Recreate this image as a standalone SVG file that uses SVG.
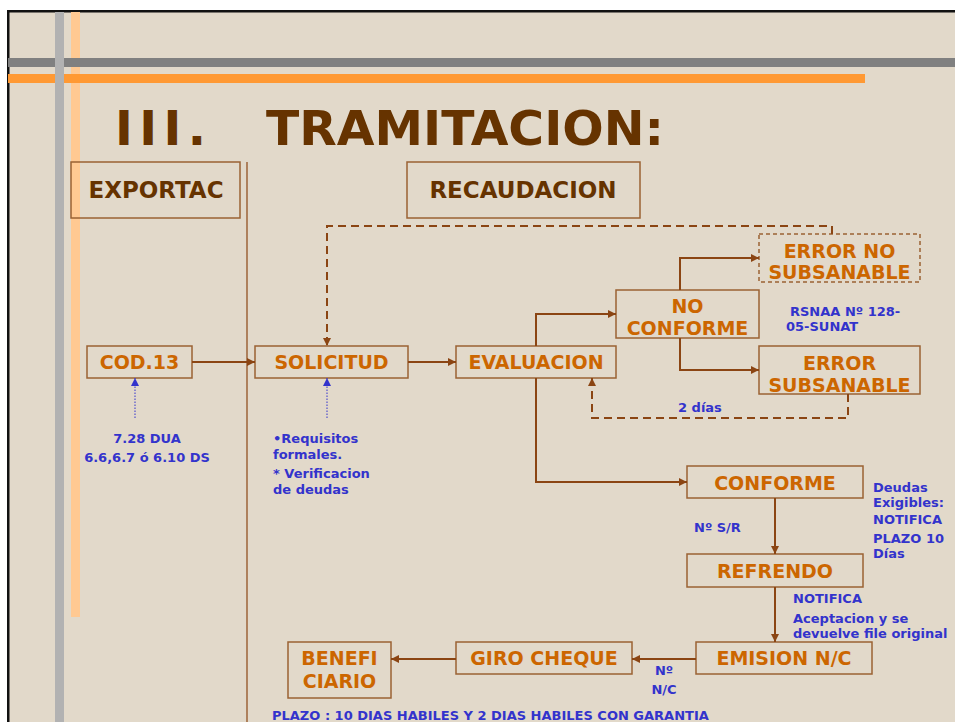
<svg xmlns="http://www.w3.org/2000/svg" width="955" height="722" viewBox="0 0 955 722">
<defs>
<marker id="ah" viewBox="0 0 10 10" refX="10" refY="5" markerWidth="9" markerHeight="8" markerUnits="userSpaceOnUse" orient="auto">
<path d="M0,0 L10,5 L0,10 z" fill="#8b4513"/>
</marker>
<marker id="ahb" viewBox="0 0 10 10" refX="10" refY="5" markerWidth="9" markerHeight="8" markerUnits="userSpaceOnUse" orient="auto">
<path d="M0,0 L10,5 L0,10 z" fill="#3333cc"/>
</marker>
<style>
.box{fill:none;stroke:#9a6233;stroke-width:1.5}
.lbl{font-family:"DejaVu Sans",Verdana,sans-serif;font-weight:bold;font-size:19px;fill:#cc6600;text-anchor:middle}
.hdr{font-family:"DejaVu Sans",Verdana,sans-serif;font-weight:bold;font-size:23px;fill:#663300;text-anchor:middle}
.note{font-family:"DejaVu Sans",Verdana,sans-serif;font-weight:bold;font-size:13px;fill:#3333cc}
.con{fill:none;stroke:#8b4513;stroke-width:2}
.dash{fill:none;stroke:#8b4513;stroke-width:2;stroke-dasharray:8,5}
.dot{fill:none;stroke:#3333cc;stroke-width:1;stroke-dasharray:1.5,1.5}
</style>
</defs>
<rect x="0" y="0" width="955" height="722" fill="#ffffff"/>
<rect x="8" y="11" width="947" height="711" fill="#e2d9ca"/>
<rect x="7" y="10" width="948" height="2.5" fill="#111"/>
<rect x="7" y="10" width="2.5" height="712" fill="#111"/>
<!-- decorative bars -->
<rect x="71" y="12" width="9" height="605" fill="#ffc992"/>
<rect x="8" y="58" width="947" height="9" fill="#808080"/>
<rect x="8" y="74" width="857" height="9" fill="#ff9933"/>
<rect x="55" y="12" width="9" height="710" fill="#b2b2b2"/>
<!-- title -->
<text x="115" y="145" font-family="'DejaVu Sans',Verdana,sans-serif" font-weight="bold" font-size="48" fill="#663300" textLength="91" lengthAdjust="spacing">III.</text>
<text x="266" y="145" font-family="'DejaVu Sans',Verdana,sans-serif" font-weight="bold" font-size="48" fill="#663300" textLength="398" lengthAdjust="spacingAndGlyphs">TRAMITACION:</text>
<line x1="247" y1="162" x2="247" y2="722" stroke="#8b4513" stroke-width="1.2"/>
<g id="exportac"><rect class="box" x="71" y="162" width="169" height="56"/><text class="hdr" x="156" y="198">EXPORTAC</text></g>
<g id="recaudacion"><rect class="box" x="407" y="162" width="233" height="56"/><text class="hdr" x="523" y="198">RECAUDACION</text></g>
<g id="cod13"><rect class="box" x="87" y="346" width="105" height="32"/><text class="lbl" x="139.5" y="369">COD.13</text></g>
<g id="solicitud"><rect class="box" x="255" y="346" width="153" height="32"/><text class="lbl" x="331.5" y="369">SOLICITUD</text></g>
<g id="evaluacion"><rect class="box" x="456" y="346" width="160" height="32"/><text class="lbl" x="536" y="369">EVALUACION</text></g>
<g id="noconforme"><rect class="box" x="616" y="290" width="143" height="48"/><text class="lbl" x="687.5" y="313">NO</text><text class="lbl" x="687.5" y="335">CONFORME</text></g>
<g id="errorno"><rect class="box" x="759" y="234" width="161" height="48" style="stroke-dasharray:4,3"/><text class="lbl" x="839.5" y="258">ERROR NO</text><text class="lbl" x="839.5" y="279">SUBSANABLE</text></g>
<g id="errorsub"><rect class="box" x="759" y="346" width="161" height="48"/><text class="lbl" x="839.5" y="370">ERROR</text><text class="lbl" x="839.5" y="392">SUBSANABLE</text></g>
<g id="conforme"><rect class="box" x="687" y="466" width="176" height="32"/><text class="lbl" x="775" y="490">CONFORME</text></g>
<g id="refrendo"><rect class="box" x="687" y="554" width="176" height="33"/><text class="lbl" x="775" y="578">REFRENDO</text></g>
<g id="emision"><rect class="box" x="696" y="642" width="176" height="32"/><text class="lbl" x="784" y="665">EMISION N/C</text></g>
<g id="giro"><rect class="box" x="456" y="642" width="176" height="32"/><text class="lbl" x="544" y="665">GIRO CHEQUE</text></g>
<g id="beneficiario"><rect class="box" x="288" y="642" width="103" height="56"/><text class="lbl" x="339.5" y="665">BENEFI</text><text class="lbl" x="339.5" y="688">CIARIO</text></g>
<g id="connectors">
<line class="con" x1="192" y1="362" x2="255" y2="362" marker-end="url(#ah)"/>
<line class="con" x1="408" y1="362" x2="456" y2="362" marker-end="url(#ah)"/>
<polyline class="con" points="536,346 536,314 616,314" marker-end="url(#ah)"/>
<polyline class="con" points="680,290 680,258 759,258" marker-end="url(#ah)"/>
<polyline class="con" points="680,338 680,370 759,370" marker-end="url(#ah)"/>
<polyline class="dash" points="832,234 832,226 327,226 327,346" marker-end="url(#ah)"/>
<polyline class="dash" points="848,394 848,418 592,418 592,378" marker-end="url(#ah)"/>
<polyline class="con" points="536,378 536,482 687,482" marker-end="url(#ah)"/>
<line class="con" x1="775" y1="498" x2="775" y2="554" marker-end="url(#ah)"/>
<line class="con" x1="775" y1="587" x2="775" y2="642" marker-end="url(#ah)"/>
<line class="con" x1="696" y1="659" x2="632" y2="659" marker-end="url(#ah)"/>
<line class="con" x1="456" y1="659" x2="391" y2="659" marker-end="url(#ah)"/>
<line class="dot" x1="135" y1="418" x2="135" y2="378" marker-end="url(#ahb)"/>
<line class="dot" x1="327" y1="418" x2="327" y2="378" marker-end="url(#ahb)"/>
</g>
<g id="notes">
<text class="note" x="790" y="316">RSNAA Nº 128-</text>
<text class="note" x="786" y="331">05-SUNAT</text>
<text class="note" x="678" y="412">2 días</text>
<text class="note" x="147" y="443" text-anchor="middle">7.28 DUA</text>
<text class="note" x="147" y="462" text-anchor="middle">6.6,6.7 ó 6.10 DS</text>
<text class="note" x="273" y="443">•Requisitos</text>
<text class="note" x="273" y="459">formales.</text>
<text class="note" x="273" y="478">* Verificacion</text>
<text class="note" x="273" y="494">de deudas</text>
<text class="note" x="694" y="532">Nº S/R</text>
<text class="note" x="873" y="492">Deudas</text>
<text class="note" x="873" y="507">Exigibles:</text>
<text class="note" x="873" y="524">NOTIFICA</text>
<text class="note" x="873" y="543">PLAZO 10</text>
<text class="note" x="873" y="558">Días</text>
<text class="note" x="793" y="603">NOTIFICA</text>
<text class="note" x="793" y="623">Aceptacion y se</text>
<text class="note" x="793" y="638">devuelve file original</text>
<text class="note" x="664" y="675" text-anchor="middle">Nº</text>
<text class="note" x="664" y="694" text-anchor="middle">N/C</text>
<text class="note" x="272" y="720">PLAZO : 10 DIAS HABILES Y 2 DIAS HABILES CON GARANTIA</text>
</g>
</svg>
